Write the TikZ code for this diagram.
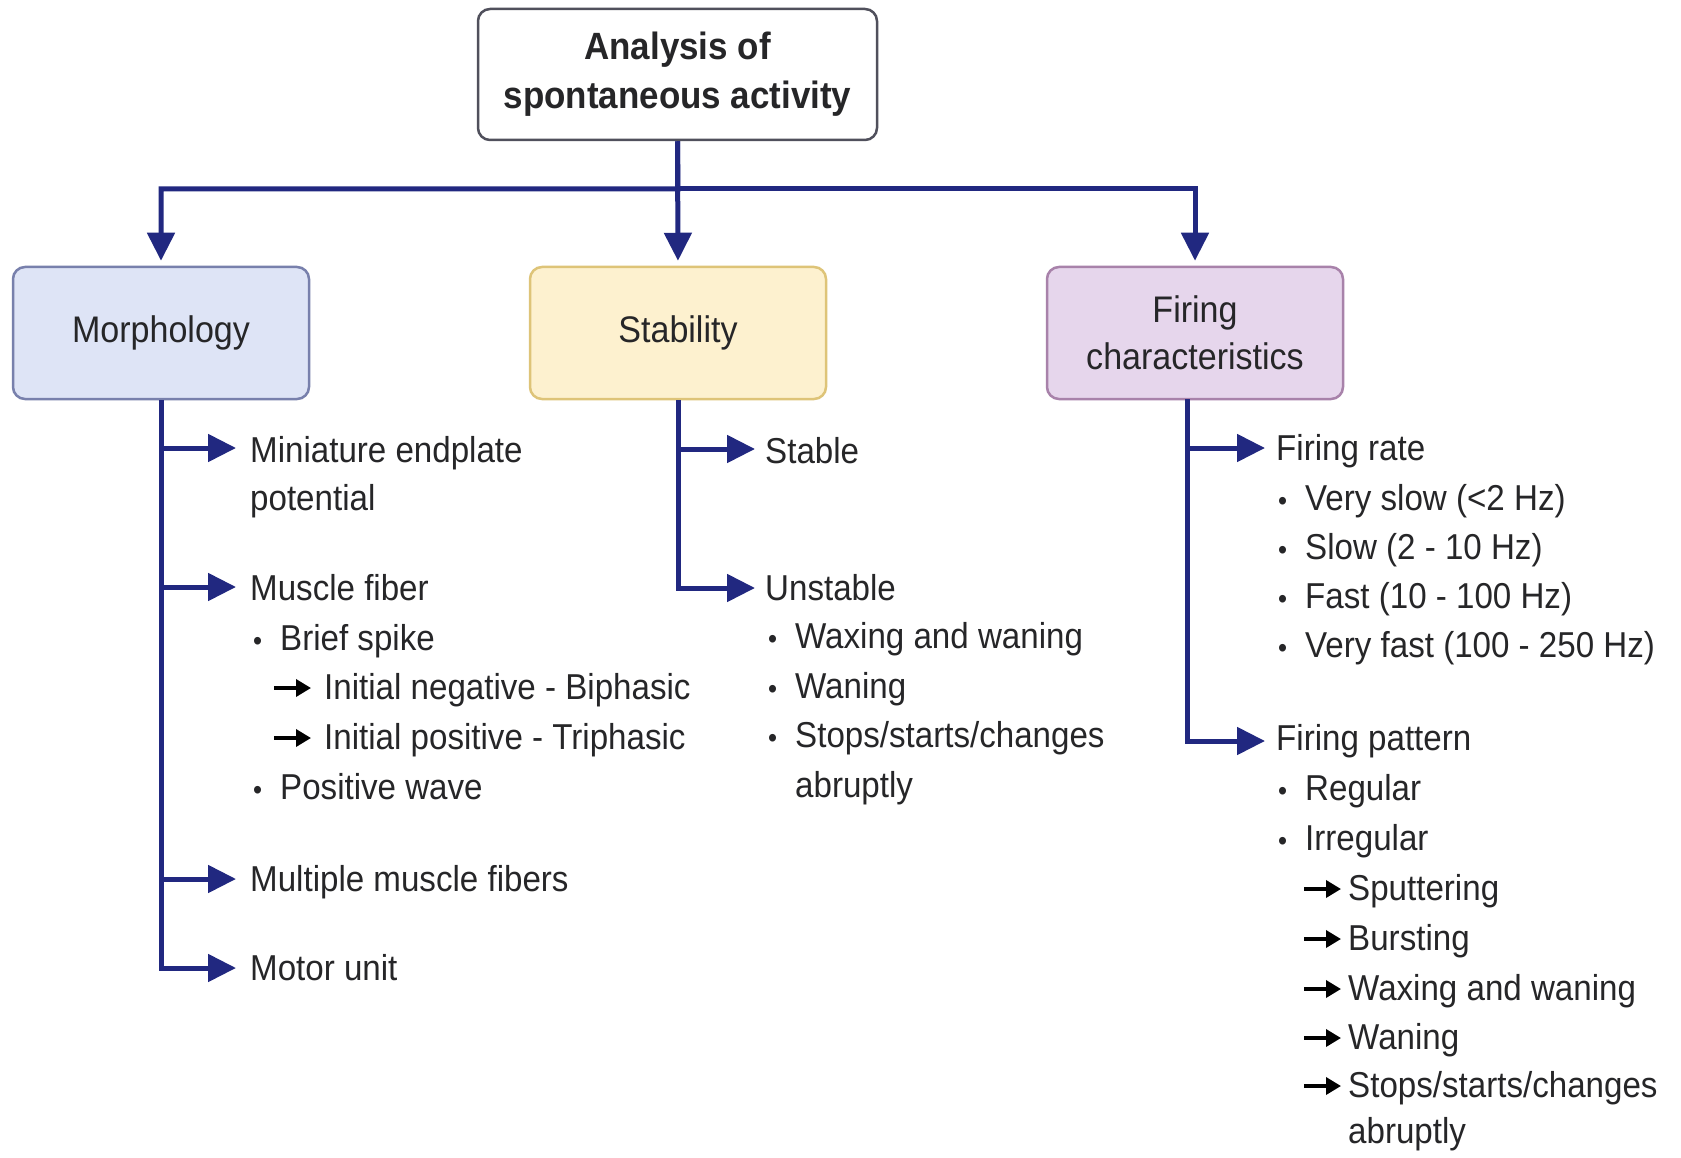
\documentclass[tikz,border=0pt]{standalone}
\usepackage{fontspec}
\setmainfont{Liberation Sans}[FakeStretch=0.92]
\usetikzlibrary{arrows.meta,calc}
\definecolor{navy}{RGB}{33,40,128}
\definecolor{txt}{RGB}{38,38,40}
\definecolor{morphfill}{RGB}{222,228,246}
\definecolor{morphdraw}{RGB}{120,128,172}
\definecolor{stabfill}{RGB}{253,241,207}
\definecolor{stabdraw}{RGB}{222,196,120}
\definecolor{firefill}{RGB}{230,214,236}
\definecolor{firedraw}{RGB}{168,130,170}
\definecolor{topdraw}{RGB}{80,80,92}
\newcommand\bodyfs{\fontsize{36}{48}\selectfont}
\newcommand\boxfs{\fontsize{37}{47}\selectfont}
\newcommand\bul{\makebox[27pt][l]{\fontsize{28}{28}\selectfont •}}
\tikzset{
  blk/.style={draw, rounded corners=12pt, line width=2.5pt, minimum width=296pt,
    minimum height=132pt, align=center, font=\boxfs, text=txt},
  lbl/.style={anchor=base west, inner sep=0pt, font=\bodyfs, text=txt},
  barr/.style={navy, line width=5pt, -{Triangle[length=28pt,width=27pt]}},
  sarr/.style={black, line width=3.5pt, -{Triangle[length=15pt,width=17pt]}},
}
\begin{document}
\begin{tikzpicture}[x=1pt,y=-1pt]
\useasboundingbox (0,0) rectangle (1681,1158);
\fill[white] (0,0) rectangle (1681,1158);

% boxes
\node[blk, draw=topdraw, fill=white, minimum width=399pt, minimum height=131pt,
  font=\fontsize{38}{49}\selectfont\bfseries] (top) at (677.5,74.5) {Analysis of\\spontaneous activity};
\node[blk, draw=morphdraw, fill=morphfill] (morph) at (161,333) {Morphology};
\node[blk, draw=stabdraw, fill=stabfill] (stab) at (678,333) {Stability};
\node[blk, draw=firedraw, fill=firefill] (fire) at (1195,333) {Firing\\characteristics};

% top connectors
\coordinate (hub) at (678,189);
\draw[barr, shorten >=5pt] (top.south) -- (hub) -| (morph.north);
\draw[barr, shorten >=5pt] (top.south) -- (stab.north);
\draw[barr, shorten >=5pt] (hub) -| (fire.north);

% Morphology column
\node[lbl] (mep1) at (250,462) {Miniature endplate};
\node[lbl] (mep2) at (250,510) {potential};
\node[lbl] (mf) at (250,600) {Muscle fiber};
\node[lbl] (bs) at (253,650) {\bul Brief spike};
\node[lbl] (ineg) at (324,699) {Initial negative - Biphasic};
\node[lbl] (ipos) at (324,749) {Initial positive - Triphasic};
\node[lbl] (pw) at (253,799) {\bul Positive wave};
\node[lbl] (mmf) at (250,891) {Multiple muscle fibers};
\node[lbl] (mu) at (250,980) {Motor unit};
\coordinate (am1) at (236,448);
\coordinate (am2) at (236,587);
\coordinate (am3) at (236,879);
\coordinate (am4) at (236,968);
\draw[barr] (morph.south) |- (am4);
\draw[barr] (morph.south |- am1) -- (am1);
\draw[barr] (morph.south |- am2) -- (am2);
\draw[barr] (morph.south |- am3) -- (am3);
\draw[sarr] ($(ineg.base west)+(-50,-11)$) -- ++(37,0);
\draw[sarr] ($(ipos.base west)+(-50,-11)$) -- ++(37,0);

% Stability column
\node[lbl] (st) at (765,463) {Stable};
\node[lbl] (un) at (765,600) {Unstable};
\node[lbl] (uw1) at (768,648) {\bul Waxing and waning};
\node[lbl] (uw2) at (768,698) {\bul Waning};
\node[lbl] (uw3) at (768,747) {\bul Stops/starts/changes};
\node[lbl] (uw4) at (795,797) {abruptly};
\coordinate (as1) at (755,449);
\coordinate (as2) at (755,588);
\draw[barr] (stab.south) |- (as2);
\draw[barr] (stab.south |- as1) -- (as1);

% Firing column
\node[lbl] (fr) at (1276,460) {Firing rate};
\node[lbl] (fr1) at (1278,510) {\bul Very slow (<2 Hz)};
\node[lbl] (fr2) at (1278,559) {\bul Slow (2 - 10 Hz)};
\node[lbl] (fr3) at (1278,608) {\bul Fast (10 - 100 Hz)};
\node[lbl] (fr4) at (1278,657) {\bul Very fast (100 - 250 Hz)};
\node[lbl] (fp) at (1276,750) {Firing pattern};
\node[lbl] (fp1) at (1278,800) {\bul Regular};
\node[lbl] (fp2) at (1278,850) {\bul Irregular};
\node[lbl] (fp3) at (1348,900) {Sputtering};
\node[lbl] (fp4) at (1348,950) {Bursting};
\node[lbl] (fp5) at (1348,1000) {Waxing and waning};
\node[lbl] (fp6) at (1348,1049) {Waning};
\node[lbl] (fp7) at (1348,1097) {Stops/starts/changes};
\node[lbl] (fp8) at (1348,1143) {abruptly};
\coordinate (ftr) at (1187,399);
\coordinate (af1) at (1265,448);
\coordinate (af2) at (1265,741);
\draw[barr] (ftr) |- (af2);
\draw[barr] (ftr |- af1) -- (af1);
\foreach \n in {fp3,fp4,fp5,fp6,fp7}
  \draw[sarr] ($(\n.base west)+(-44,-11)$) -- ++(37,0);
\end{tikzpicture}
\end{document}
